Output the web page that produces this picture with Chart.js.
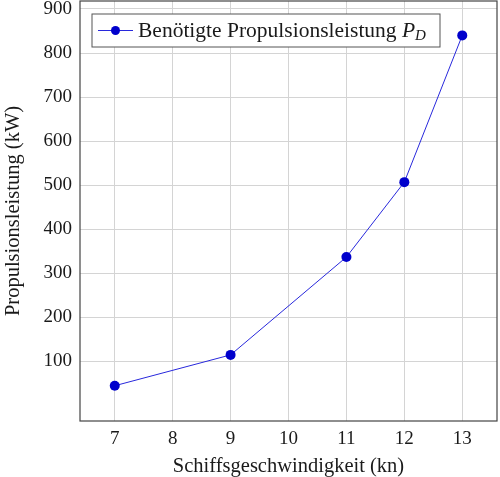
<!DOCTYPE html>
<html lang="de">
<head>
<meta charset="UTF-8">
<title>Propulsionsleistung</title>
<style>
  html, body { margin: 0; padding: 0; background: #fff; }
  #wrap { width: 500px; height: 477px; }
</style>
<script src="https://cdn.jsdelivr.net/npm/chart.js"></script>
</head>
<body>
<div id="wrap"><canvas id="chart" width="500" height="477"></canvas></div>
<script>
// speeds in knots and required power in kW
const speeds = [7, 9, 11, 12, 13];
const power = [45, 115, 337, 507, 840];
const xTicks = [7, 8, 9, 10, 11, 12, 13];
const yTicks = [100, 200, 300, 400, 500, 600, 700, 800, 900];
const legendText = 'Benötigte Propulsionsleistung ';

const serif = '"Liberation Serif", "DejaVu Serif", serif';

// frame around the plot area and legend box inside it (pgfplots style)
const framePlugin = {
    id: 'frame',
    afterDraw(chart) {
        const a = chart.chartArea;
        const ctx = chart.ctx;
        ctx.save();
        ctx.strokeStyle = '#444';
        ctx.lineWidth = 1.2;
        ctx.strokeRect(a.left, a.top, a.right - a.left, a.bottom - a.top);

        // legend
        const bx = a.left + 12, by = a.top + 13, bw = 348, bh = 33;
        ctx.fillStyle = '#fff';
        ctx.fillRect(bx, by, bw, bh);
        ctx.strokeStyle = '#555';
        ctx.lineWidth = 1;
        ctx.strokeRect(bx, by, bw, bh);
        const cy = by + bh / 2;
        ctx.strokeStyle = 'rgb(40,40,220)';
        ctx.beginPath();
        ctx.moveTo(bx + 6, cy);
        ctx.lineTo(bx + 41, cy);
        ctx.stroke();
        ctx.fillStyle = '#0000cc';
        ctx.beginPath();
        ctx.arc(bx + 23.5, cy, 4.5, 0, Math.PI * 2);
        ctx.fill();
        ctx.fillStyle = '#1a1a1a';
        ctx.textBaseline = 'alphabetic';
        ctx.font = '21.5px ' + serif;
        const tx = bx + 46, ty = cy + 6;
        ctx.fillText(legendText, tx, ty);
        let w = ctx.measureText(legendText).width;
        ctx.font = 'italic 21.5px ' + serif;
        ctx.fillText('P', tx + w, ty);
        w += ctx.measureText('P').width;
        ctx.font = 'italic 15px ' + serif;
        ctx.fillText('D', tx + w, ty + 3);
        ctx.restore();
    }
};

new Chart(document.getElementById('chart'), {
    type: 'line',
    data: {
        datasets: [{
            label: 'Benötigte Propulsionsleistung P_D',
            data: speeds.map((s, i) => ({ x: s, y: power[i] })),
            borderColor: 'rgb(40,40,220)',
            borderWidth: 1,
            backgroundColor: '#0000cc',
            pointBackgroundColor: '#0000cc',
            pointBorderWidth: 0,
            pointRadius: 5,
            tension: 0
        }]
    },
    options: {
        responsive: false,
        animation: false,
        layout: { autoPadding: false, padding: { top: 1, right: 3, left: 0, bottom: 0 } },
        plugins: { legend: { display: false }, tooltip: { enabled: false } },
        scales: {
            x: {
                type: 'linear',
                min: 6.4,
                max: 13.6,
                afterBuildTicks: s => { s.ticks = xTicks.map(v => ({ value: v })); },
                afterFit: s => { s.height = 56; s.paddingLeft = 0; s.paddingRight = 0; },
                grid: { color: '#d4d4d4', lineWidth: 1, drawTicks: false },
                border: { display: false },
                ticks: {
                    color: '#1a1a1a',
                    padding: 7,
                    font: { family: serif, size: 19 }
                },
                title: {
                    display: true,
                    text: 'Schiffsgeschwindigkeit (kn)',
                    color: '#1a1a1a',
                    padding: { top: 0, bottom: -2 },
                    font: { family: serif, size: 20.5 }
                }
            },
            y: {
                min: -35,
                max: 918,
                afterBuildTicks: s => { s.ticks = yTicks.map(v => ({ value: v })); },
                afterFit: s => { s.width = 80; s.paddingTop = 0; s.paddingBottom = 0; },
                grid: { color: '#d4d4d4', lineWidth: 1, drawTicks: false },
                border: { display: false },
                ticks: {
                    color: '#1a1a1a',
                    padding: 8,
                    font: { family: serif, size: 19 }
                },
                title: {
                    display: true,
                    text: 'Propulsionsleistung (kW)',
                    color: '#1a1a1a',
                    padding: { top: 1, bottom: 0 },
                    font: { family: serif, size: 20.5 }
                }
            }
        }
    },
    plugins: [framePlugin]
});
</script>
</body>
</html>
